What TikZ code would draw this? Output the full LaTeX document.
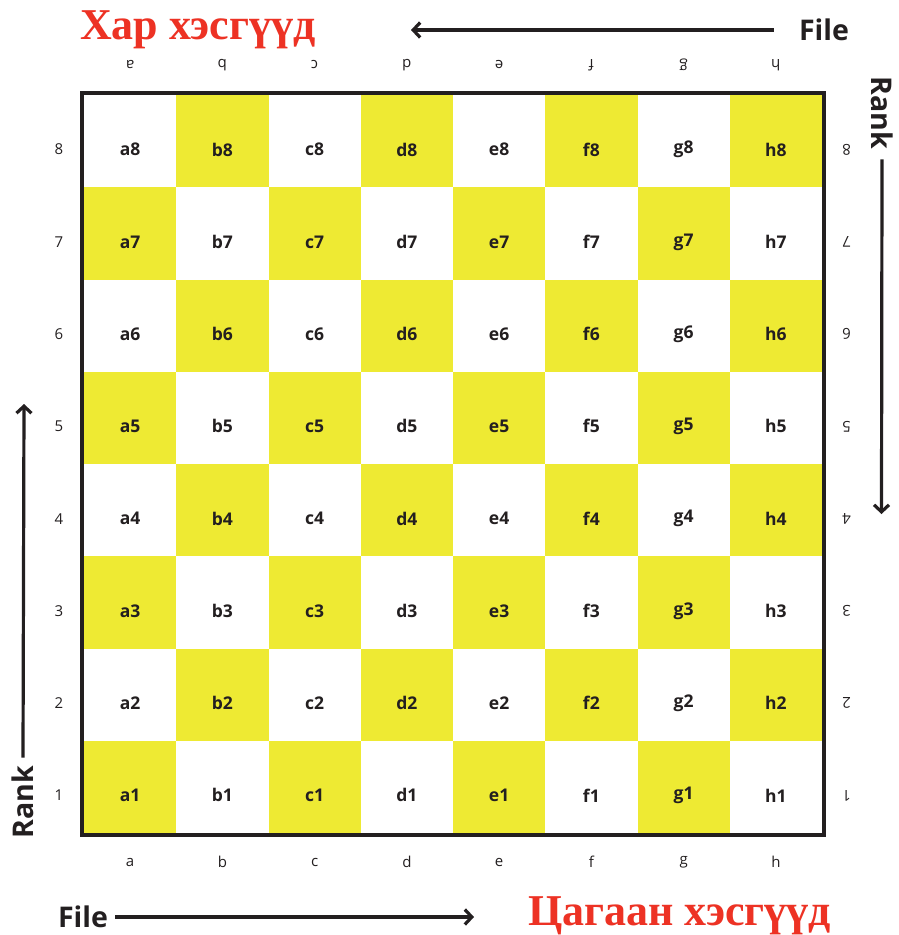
\documentclass[tikz,border=0pt]{standalone}
\usepackage{fontspec}
\setmainfont{Open Sans}
\newfontfamily\titlefont{Liberation Serif}
\usetikzlibrary{arrows.meta}
\definecolor{sqyellow}{RGB}{238,234,51}
\definecolor{ink}{RGB}{35,31,32}
\definecolor{titlered}{RGB}{237,50,36}
\tikzset{
  square/.style={minimum width=92.25pt, minimum height=92.25pt, inner sep=0pt, draw=none},
  sqlbl/.style={font=\bfseries\fontsize{17.5}{17.5}\selectfont, text=ink, inner sep=0pt},
  edgelbl/.style={font=\fontsize{15}{15}\selectfont, text=ink, inner sep=0pt},
  axislbl/.style={font=\bfseries\fontsize{28.5}{28.5}\selectfont, text=ink, inner sep=0pt},
  axarrow/.style={draw=ink, line width=3.2pt, -{Straight Barb[length=7pt,width=15pt]}},
  titlelbl/.style={font=\titlefont\bfseries\fontsize{44}{44}\selectfont, text=titlered, inner sep=0pt, anchor=base west},
}
\begin{document}
\begin{tikzpicture}[x=1pt,y=-1pt]
\useasboundingbox[fill=white] (0,0) rectangle (898,935);
% squares
\foreach \f [count=\i from 0] in {a,b,c,d,e,f,g,h}{
  \foreach \r in {1,...,8}{
    \pgfmathtruncatemacro{\sqpar}{mod(\i+\r,2)}
    \pgfmathsetmacro{\cx}{84+\i*92.25+46.125}
    \pgfmathsetmacro{\cy}{95+(8-\r)*92.25+46.125}
    \ifnum\sqpar=1
      \node[square, fill=sqyellow] (sq-\f\r) at (\cx,\cy) {};
    \else
      \node[square, fill=white] (sq-\f\r) at (\cx,\cy) {};
    \fi
    \node[sqlbl] (\f\r) at (\cx,\cy+8.5) {\f\r};
  }
  % file letters
  \pgfmathsetmacro{\cx}{84+\i*92.25+46.125}
  \node[edgelbl] (bot-\f) at (\cx,862) {\f};
  \node[edgelbl, rotate=180] (top-\f) at (\cx,65) {\f};
}
% rank numbers
\foreach \r in {1,...,8}{
  \pgfmathsetmacro{\cy}{95+(8-\r)*92.25+46.125+8.5}
  \node[edgelbl] (left-\r) at (59,\cy) {\r};
  \node[edgelbl, rotate=180] (right-\r) at (846.5,\cy) {\r};
}
% board frame
\draw[ink, line width=4.5pt] (81.8,92.8) rectangle (824.2,835.2);
% titles
\node[titlelbl] (black) at (80,39) {Хар хэсгүүд};
\node[titlelbl] (white) at (528,925) {Цагаан хэсгүүд};
% axis labels
\node[axislbl] (fileT) at (824,30) {File};
\node[axislbl] (fileB) at (83,917) {File};
\node[axislbl, rotate=90] (rankL) at (23,802) {Rank};
\node[axislbl, rotate=-90] (rankR) at (882,113) {Rank};
% arrow ends
\coordinate (fileTend) at (411,30);
\coordinate (fileBend) at (474,917);
\coordinate (rankLend) at (24,404);
\coordinate (rankRend) at (881.5,514);
\draw[axarrow] ([xshift=-25pt]fileT.west) -- (fileTend);
\draw[axarrow] ([xshift=7pt]fileB.east) -- (fileBend);
\draw[axarrow] ([yshift=8pt]rankL.east) -- (rankLend);
\draw[axarrow] ([yshift=-10pt]rankR.east) -- (rankRend);
\end{tikzpicture}
\end{document}
